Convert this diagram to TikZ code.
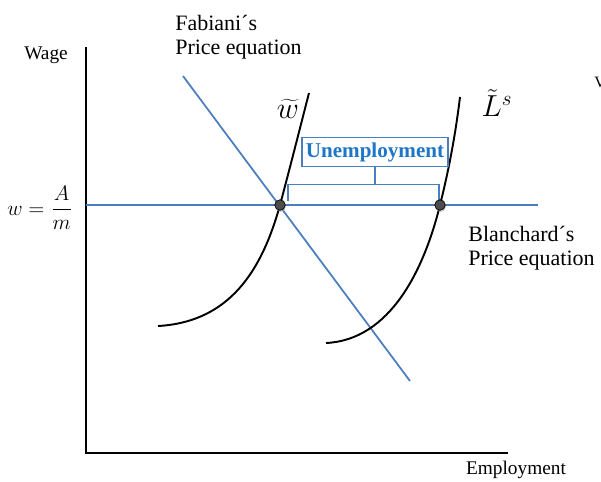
\documentclass[tikz,border=0pt]{standalone}
\usepackage{fontspec}
\setmainfont{Liberation Serif}
\usetikzlibrary{positioning,shadows,calc}

\definecolor{lineblue}{RGB}{74,126,190}
\definecolor{labelblue}{RGB}{30,118,200}

\begin{document}
\begin{tikzpicture}[
	x=0.02cm, y=-0.02cm,
	axis/.style={black, line width=1.4pt},
	price/.style={lineblue, line width=1pt},
	supply/.style={black, line width=1.1pt},
	point/.style={circle, draw=black, fill=black!70, thin, inner sep=0pt, minimum size=0.21cm,
		drop shadow={fill=black!40, opacity=0.5, shadow xshift=0.4pt, shadow yshift=-1pt}},
	axislabel/.style={font=\fontsize{11}{13}\selectfont},
	tag/.style={font=\fontsize{12.5}{13.5}\selectfont, align=left, anchor=north west, inner sep=0pt},
	curvelabel/.style={font=\fontsize{18}{20}\selectfont, inner sep=1pt},
	ubox/.style={rectangle, draw=lineblue, fill=white, line width=1pt, text=labelblue,
		font=\bfseries\fontsize{12}{14}\selectfont, minimum width=2.92cm, minimum height=0.58cm, inner sep=1pt}
]
\useasboundingbox (0,0) rectangle (601,481);

% --- Axes ---
\coordinate (ytop) at (86,47);
\coordinate (origin) at (86,453);
\coordinate (xend) at (508,453);
\draw[axis] (ytop) -- (origin) -- (xend);

\node[axislabel, anchor=east] (wage) at (74,55) {Wage};
\node[axislabel] (employ) at (516,470) {Employment};
\node[font=\fontsize{13}{15}\selectfont] (wlevel) at (40,208) {$\displaystyle w=\frac{A}{m}$};

% --- Price equations ---
\coordinate (hleft) at (86,205);
\coordinate (hright) at (538,205);
\coordinate (ftop) at (183,76);
\coordinate (fbot) at (410,381);
\draw[price] (hleft) -- (hright);
\draw[price] (ftop) -- (fbot);

\node[tag] (fabiani) at (175,15) {Fabiani´s\\Price equation};
\node[tag] (blanchard) at (468,226) {Blanchard´s\\Price equation};

% --- Wage setting and labour supply ---
\coordinate (eqA) at (280,205);
\coordinate (eqB) at (440,205);
\draw[supply] (158,326) .. controls (230,322) and (262,270) .. (eqA) .. controls (292,160) and (302,120) .. (309,93);
\draw[supply] (326,343) .. controls (390,340) and (424,270) .. (eqB) .. controls (450,165) and (456,130) .. (460,97);

\node[curvelabel] (wtilde) at (288,109) {$\widetilde{w}$};
\node[curvelabel] (ltilde) at (497,103) {$\tilde{L}^s$};

% --- Unemployment gap ---
\node[ubox] (unemp) at (375,152) {Unemployment};
\coordinate (gapL) at (288,201);
\coordinate (gapR) at (439,201);
\draw[price] (unemp.south) -- ++(0,17) coordinate (gapM);
\draw[price] (gapL) |- (gapM) -| (gapR);

\node[point] (dotA) at (eqA) {};
\node[point] (dotB) at (eqB) {};

\node[font=\fontsize{9}{11}\selectfont, anchor=north west, inner sep=0pt] (cut) at (594,77) {V};
\end{tikzpicture}
\end{document}
